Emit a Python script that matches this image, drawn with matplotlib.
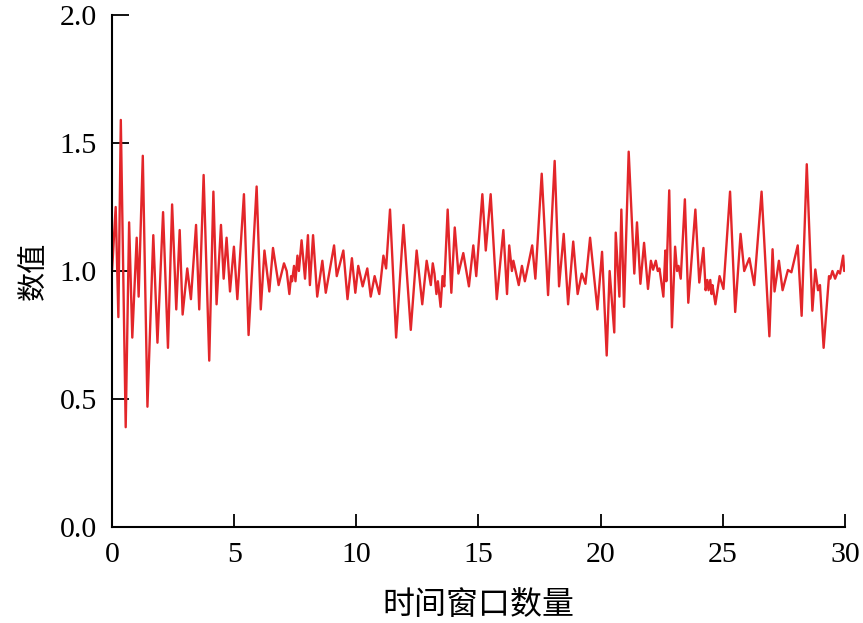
import matplotlib
matplotlib.use("Agg")
import matplotlib.pyplot as plt

# Local extrema (time-window index, value)
x_vals = [0.00, 0.15, 0.26, 0.36, 0.56, 0.70, 0.83, 1.01, 1.09, 1.26, 1.45, 1.69, 1.86, 2.09, 2.29,
          2.46, 2.63, 2.77, 2.89, 3.08, 3.23, 3.44, 3.57, 3.75, 3.98, 4.15, 4.28, 4.46, 4.57, 4.69,
          4.83, 4.99, 5.13, 5.40, 5.59, 5.92, 6.09, 6.24, 6.44, 6.59, 6.82, 7.04, 7.15, 7.26, 7.33,
          7.37, 7.45, 7.51, 7.59, 7.65, 7.76, 7.90, 8.02, 8.10, 8.23, 8.40, 8.61, 8.75, 9.09, 9.20,
          9.47, 9.64, 9.82, 9.96, 10.08, 10.26, 10.45, 10.59, 10.75, 10.94, 11.11, 11.22, 11.38, 11.63,
          11.93, 12.23, 12.47, 12.70, 12.88, 13.05, 13.13, 13.20, 13.28, 13.34, 13.45, 13.53, 13.60,
          13.74, 13.89, 14.03, 14.18, 14.38, 14.61, 14.79, 14.91, 15.16, 15.30, 15.50, 15.75, 16.02,
          16.17, 16.26, 16.37, 16.43, 16.65, 16.78, 16.90, 17.20, 17.33, 17.59, 17.85, 18.12, 18.30,
          18.49, 18.67, 18.88, 19.06, 19.23, 19.38, 19.57, 19.87, 20.06, 20.25, 20.37, 20.56, 20.62,
          20.77, 20.85, 20.96, 21.15, 21.38, 21.49, 21.63, 21.78, 21.94, 22.06, 22.15, 22.26, 22.34,
          22.41, 22.57, 22.65, 22.69, 22.81, 22.92, 23.05, 23.13, 23.19, 23.28, 23.45, 23.59, 23.88,
          24.04, 24.21, 24.30, 24.37, 24.42, 24.49, 24.54, 24.58, 24.70, 24.87, 25.03, 25.30, 25.51,
          25.73, 25.88, 26.09, 26.29, 26.59, 26.91, 27.04, 27.12, 27.30, 27.45, 27.67, 27.81, 28.07,
          28.23, 28.44, 28.67, 28.79, 28.90, 28.98, 29.13, 29.35, 29.40, 29.49, 29.60, 29.72, 29.80,
          29.93, 29.97]
y_vals = [1.00, 1.25, 0.82, 1.59, 0.39, 1.19, 0.74, 1.13, 0.90, 1.45, 0.47, 1.14, 0.72, 1.23, 0.70,
          1.26, 0.85, 1.16, 0.83, 1.01, 0.89, 1.18, 0.85, 1.375, 0.65, 1.31, 0.87, 1.18, 0.97, 1.13,
          0.92, 1.095, 0.89, 1.30, 0.75, 1.33, 0.85, 1.08, 0.92, 1.09, 0.945, 1.03, 1.00, 0.91, 0.98,
          0.96, 1.02, 0.96, 1.06, 1.00, 1.12, 0.97, 1.14, 0.945, 1.14, 0.90, 1.04, 0.915, 1.10, 0.98,
          1.08, 0.89, 1.05, 0.915, 1.02, 0.94, 1.01, 0.90, 0.98, 0.91, 1.06, 1.01, 1.24, 0.74,
          1.18, 0.77, 1.08, 0.87, 1.04, 0.945, 1.03, 0.99, 0.91, 0.96, 0.86, 0.98, 0.94,
          1.24, 0.915, 1.17, 0.99, 1.07, 0.94, 1.10, 0.98, 1.30, 1.08, 1.30, 0.89, 1.16,
          0.91, 1.10, 1.00, 1.04, 0.945, 1.02, 0.96, 1.10, 0.97, 1.38, 0.906, 1.43, 0.94,
          1.145, 0.87, 1.115, 0.91, 0.99, 0.95, 1.13, 0.85, 1.075, 0.67, 1.00, 0.76, 1.15,
          0.90, 1.24, 0.86, 1.466, 0.99, 1.19, 0.95, 1.11, 0.93, 1.04, 1.005, 1.04, 1.00,
          1.01, 0.90, 1.08, 0.96, 1.315, 0.78, 1.095, 1.00, 1.02, 0.97, 1.28, 0.876, 1.24,
          0.955, 1.09, 0.925, 0.965, 0.925, 0.965, 0.91, 0.945, 0.87, 0.98, 0.93, 1.31, 0.84,
          1.145, 1.00, 1.05, 0.945, 1.31, 0.745, 1.085, 0.92, 1.04, 0.925, 1.004, 0.995, 1.10,
          0.825, 1.417, 0.845, 1.006, 0.925, 0.945, 0.70, 0.98, 0.97, 1.00, 0.97, 1.00, 0.99,
          1.06, 1.00]

x_ticks = [0, 5, 10, 15, 20, 25, 30]
y_ticks = [0.0, 0.5, 1.0, 1.5, 2.0]
x_label = "时间窗口数量"
y_label = "数值"

fig = plt.figure(figsize=(8.63, 6.23), dpi=100)
ax = fig.add_axes([0.1298, 0.154, 0.979 - 0.1298, 0.976 - 0.154])

ax.plot(x_vals, y_vals, color="#E3262A", linewidth=1.7,
        solid_joinstyle="round", solid_capstyle="round")

ax.set_xlim(0, 30)
ax.set_ylim(0, 2.0)
ax.set_xticks(x_ticks)
ax.set_yticks(y_ticks)
ax.set_xticklabels([str(t) for t in x_ticks], family="Liberation Serif", fontsize=21.5)
ax.set_yticklabels([f"{t:.1f}" for t in y_ticks], family="Liberation Serif", fontsize=21.5)

for side in ("top", "right"):
    ax.spines[side].set_visible(False)
for side in ("left", "bottom"):
    ax.spines[side].set_linewidth(1.5)
    ax.spines[side].set_color("black")

ax.tick_params(axis="y", direction="in", length=12, width=1.3, pad=11)
ax.tick_params(axis="x", direction="in", length=9.5, width=1.3, pad=11)

ax.set_xlabel(x_label, family=["Noto Sans CJK SC", "DejaVu Sans"], fontsize=23, labelpad=15)
ax.set_ylabel(y_label, family=["Noto Sans CJK SC", "DejaVu Sans"], fontsize=21, labelpad=8)

fig.savefig("out.png", dpi=100)
